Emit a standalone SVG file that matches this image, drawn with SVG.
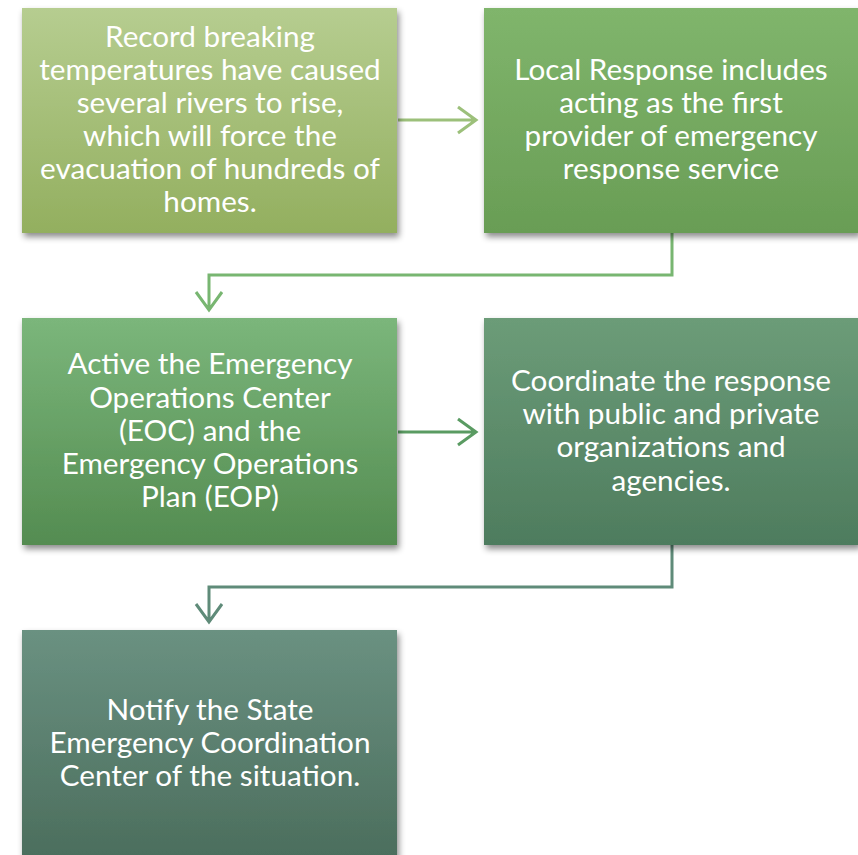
<svg xmlns="http://www.w3.org/2000/svg" width="858" height="855" viewBox="0 0 858 855">
<style>
.t{font-family:Lato,"Open Sans","Liberation Sans",sans-serif;font-size:29.7px;fill:#fff;text-anchor:middle}
.c{fill:none;stroke-width:3}
</style>
<defs>
<filter id="sh" x="-10%" y="-10%" width="125%" height="125%"><feDropShadow dx="2" dy="4" stdDeviation="3" flood-color="#000" flood-opacity="0.45"/></filter>
<linearGradient id="g1" x1="0" y1="0" x2="0" y2="1"><stop offset="0" stop-color="#b6cd90"/><stop offset="1" stop-color="#93af5f"/></linearGradient>
<linearGradient id="g2" x1="0" y1="0" x2="0" y2="1"><stop offset="0" stop-color="#80b56c"/><stop offset="1" stop-color="#699d55"/></linearGradient>
<linearGradient id="g3" x1="0" y1="0" x2="0" y2="1"><stop offset="0" stop-color="#7bb67b"/><stop offset="1" stop-color="#548c51"/></linearGradient>
<linearGradient id="g4" x1="0" y1="0" x2="0" y2="1"><stop offset="0" stop-color="#6c9c78"/><stop offset="1" stop-color="#4e7c5e"/></linearGradient>
<linearGradient id="g5" x1="0" y1="0" x2="0" y2="1"><stop offset="0" stop-color="#6a9181"/><stop offset="1" stop-color="#4a6c5b"/></linearGradient>
</defs>
<g id="connectors">
<path class="c" stroke="#9cc07a" d="M398 120H476M458 107L476 120L458 133"/>
<path class="c" stroke="#78b671" d="M672 233V275H209V310M196 292L209 310L222 292"/>
<path class="c" stroke="#5a9b62" d="M398 432H476M458 419L476 432L458 445"/>
<path class="c" stroke="#5f8b79" d="M672 545V587H209V622M196 604L209 622L222 604"/>
</g>
<g id="n1"><rect x="22" y="8" width="375" height="225" fill="url(#g1)" filter="url(#sh)"/>
<text class="t" x="210" y="47">Record breaking</text><text class="t" x="210" y="80">temperatures have caused</text><text class="t" x="210" y="113">several rivers to rise,</text><text class="t" x="210" y="146">which will force the</text><text class="t" x="210" y="179">evacuation of hundreds of</text><text class="t" x="210" y="212">homes.</text></g>
<g id="n2"><rect x="484" y="8" width="375" height="225" fill="url(#g2)" filter="url(#sh)"/>
<text class="t" x="671" y="80">Local Response includes</text><text class="t" x="671" y="113">acting as the first</text><text class="t" x="671" y="146">provider of emergency</text><text class="t" x="671" y="179">response service</text></g>
<g id="n3"><rect x="22" y="318" width="375" height="227" fill="url(#g3)" filter="url(#sh)"/>
<text class="t" x="210" y="374">Active the Emergency</text><text class="t" x="210" y="408">Operations Center</text><text class="t" x="210" y="441">(EOC) and the</text><text class="t" x="210" y="474">Emergency Operations</text><text class="t" x="210" y="507">Plan (EOP)</text></g>
<g id="n4"><rect x="484" y="318" width="375" height="227" fill="url(#g4)" filter="url(#sh)"/>
<text class="t" x="671" y="391">Coordinate the response</text><text class="t" x="671" y="424">with public and private</text><text class="t" x="671" y="457">organizations and</text><text class="t" x="671" y="491">agencies.</text></g>
<g id="n5"><rect x="22" y="630" width="375" height="240" fill="url(#g5)" filter="url(#sh)"/>
<text class="t" x="210" y="720">Notify the State</text><text class="t" x="210" y="753">Emergency Coordination</text><text class="t" x="210" y="786">Center of the situation.</text></g>
</svg>
